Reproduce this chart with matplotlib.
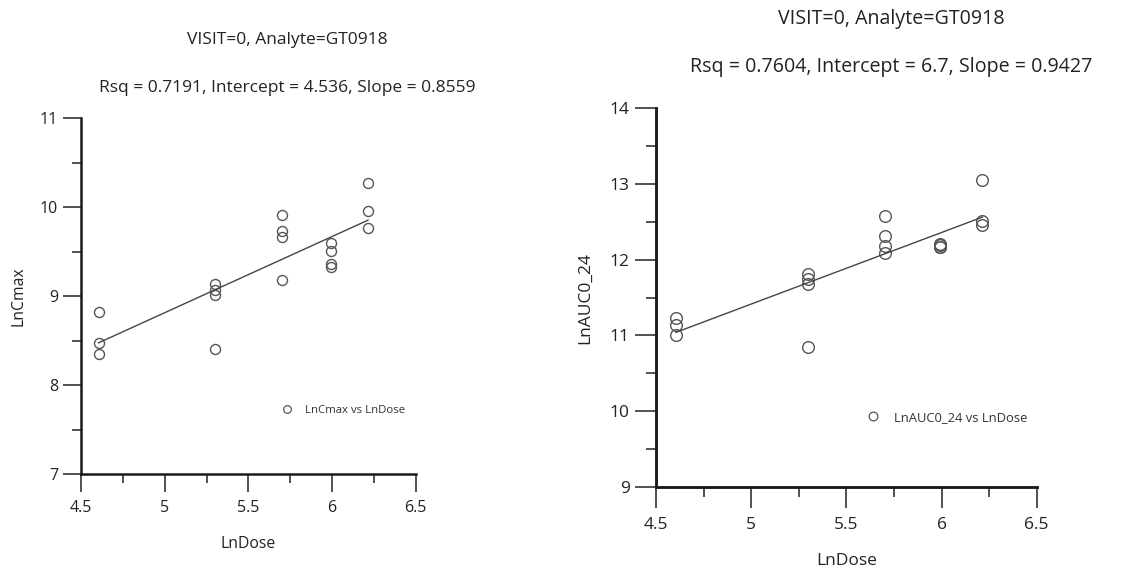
import matplotlib
matplotlib.use("Agg")
import matplotlib.pyplot as plt
from matplotlib.ticker import MultipleLocator
from matplotlib.lines import Line2D
import numpy as np

plt.rcParams['font.family'] = ['Open Sans', 'DejaVu Sans']

# ---- data ----
ln_dose_cmax = [4.605, 4.605, 4.605,
                5.298, 5.298, 5.298, 5.298,
                5.704, 5.704, 5.704, 5.704,
                5.991, 5.991, 5.991, 5.991,
                6.215, 6.215, 6.215]
ln_cmax = [8.82, 8.47, 8.35,
           9.14, 9.07, 9.01, 8.41,
           9.91, 9.73, 9.67, 9.18,
           9.60, 9.51, 9.36, 9.33,
           10.27, 9.96, 9.77]

ln_dose_auc = [4.605, 4.605, 4.605,
               5.298, 5.298, 5.298, 5.298,
               5.704, 5.704, 5.704, 5.704,
               5.991, 5.991, 5.991, 5.991,
               6.215, 6.215, 6.215]
ln_auc = [11.23, 11.14, 11.01,
          11.81, 11.74, 11.68, 10.85,
          12.57, 12.31, 12.18, 12.09,
          12.21, 12.19, 12.17, 12.16,
          13.05, 12.51, 12.45]

title_top = "VISIT=0, Analyte=GT0918"
fit_cmax = dict(rsq=0.7191, intercept=4.536, slope=0.8559)
fit_auc = dict(rsq=0.7604, intercept=6.7, slope=0.9427)

W, H = 1148, 569
fig = plt.figure(figsize=(W / 100, H / 100), dpi=100)


def px_axes(x0, x1, ytop, ybot):
    return fig.add_axes([x0 / W, 1 - ybot / H, (x1 - x0) / W, (ybot - ytop) / H])


def style(ax, ylim, ylabel, xlab_y, ylab_x, s, tls, als):
    ax.set_xlim(4.5, 6.5)
    ax.set_ylim(*ylim)
    ax.xaxis.set_major_locator(MultipleLocator(0.5))
    ax.xaxis.set_minor_locator(MultipleLocator(0.25))
    ax.yaxis.set_major_locator(MultipleLocator(1))
    ax.yaxis.set_minor_locator(MultipleLocator(0.5))
    ax.xaxis.set_major_formatter(plt.FuncFormatter(lambda v, p: f"{v:g}"))
    ax.yaxis.set_major_formatter(plt.FuncFormatter(lambda v, p: f"{v:g}"))
    for sp in ['top', 'right']:
        ax.spines[sp].set_visible(False)
    for sp in ['left', 'bottom']:
        ax.spines[sp].set_linewidth(1.8 * s)
        ax.spines[sp].set_color('#1a1a1a')
    ax.tick_params(axis='x', which='major', pad=5.5 * s)
    ax.tick_params(axis='y', which='major', pad=3.5 * s)
    ax.tick_params(which='major', length=13 * s, width=1.2, color='#333333',
                   labelsize=tls, labelcolor='#222222')
    ax.tick_params(which='minor', length=6.5 * s, width=1.2, color='#333333')
    ax.set_ylabel(ylabel, fontsize=als, color='#222222')
    ax.set_xlabel("LnDose", fontsize=als, color='#222222')
    ax.xaxis.set_label_coords(0.5, xlab_y)
    ax.yaxis.set_label_coords(ylab_x, 0.5)


def panel(ax, x, y, fit, name, ms, leg_anchor, s):
    ax.plot(x, y, linestyle='none', marker='o', markersize=ms,
            markerfacecolor='none', markeredgecolor='#555555',
            markeredgewidth=1.0, label=name)
    xs = np.array([min(x), max(x)])
    ax.plot(xs, fit['intercept'] + fit['slope'] * xs, color='#444444', lw=1.0)
    lh = Line2D([], [], linestyle='none', marker='o', markersize=5.5 * s,
                markerfacecolor='none', markeredgecolor='#555555', markeredgewidth=0.9)
    ax.legend([lh], [name], loc='center left', bbox_to_anchor=leg_anchor,
              frameon=False, fontsize=8.2 * s, handlelength=1.0, handletextpad=1.1,
              borderaxespad=0, labelcolor='#333333')


s1, s2 = 1.0, 1.14

ax1 = px_axes(81, 415.7, 118.3, 474.3)
style(ax1, (7, 11), "LnCmax", -0.172, -0.163, s1, 11.5, 11.3)
panel(ax1, ln_dose_cmax, ln_cmax, fit_cmax, "LnCmax vs LnDose", 7.2,
      (0.585, 0.18), s1)

ax2 = px_axes(656, 1036.7, 107.7, 487.3)
style(ax2, (9, 14), "LnAUC0_24", -0.172, -0.165, s2, 12.5, 12.5)
panel(ax2, ln_dose_auc, ln_auc, fit_auc, "LnAUC0_24 vs LnDose", 8.4,
      (0.54, 0.185), s2)


def titles(cx, y1, y2, fit, fs):
    fig.text(cx / W, 1 - y1 / H, title_top, ha='center', va='center',
             fontsize=fs, color='#222222')
    fig.text(cx / W, 1 - y2 / H,
             f"Rsq = {fit['rsq']:.4f}, Intercept = {fit['intercept']:g}, Slope = {fit['slope']:.4f}",
             ha='center', va='center', fontsize=fs, color='#222222')


titles(287, 40, 88, fit_cmax, 12.5)
titles(891, 19, 67, fit_auc, 14.1)

fig.savefig("out.png", dpi=100, facecolor='white')
